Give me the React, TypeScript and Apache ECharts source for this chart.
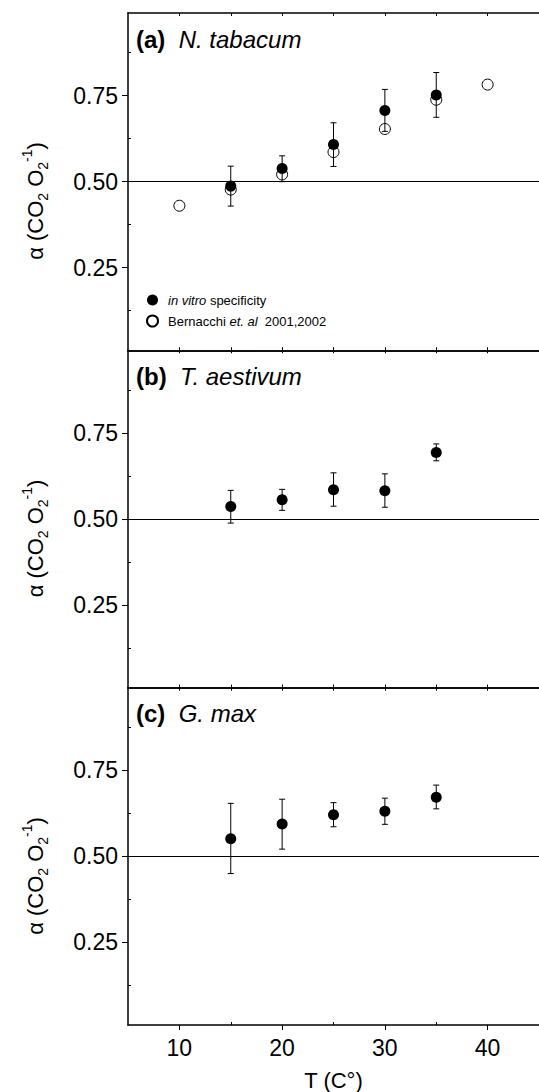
import React, { useEffect, useRef } from "react";
import * as echarts from "echarts";

// ---- data ----
const T_FILLED = [15, 20, 25, 30, 35];
const T_OPEN = [10, 15, 20, 25, 30, 35, 40];

const A_FILLED = [0.487, 0.538, 0.608, 0.707, 0.752];
const A_LO = [0.429, 0.5, 0.544, 0.646, 0.687];
const A_HI = [0.545, 0.575, 0.671, 0.768, 0.817];
const A_OPEN = [0.43, 0.477, 0.521, 0.586, 0.653, 0.738, 0.782];

const B_FILLED = [0.536, 0.556, 0.585, 0.582, 0.693];
const B_LO = [0.488, 0.525, 0.537, 0.534, 0.669];
const B_HI = [0.583, 0.586, 0.634, 0.631, 0.718];

const C_FILLED = [0.551, 0.594, 0.621, 0.631, 0.672];
const C_LO = [0.45, 0.521, 0.586, 0.593, 0.638];
const C_HI = [0.654, 0.666, 0.656, 0.669, 0.707];

const PANEL_TAGS = ["(a)", "(b)", "(c)"];
const PANEL_SPECIES = ["N. tabacum", "T. aestivum", "G. max"];

const X_MAJOR = [10, 20, 30, 40];
const X_MINOR = [15, 25, 35];
const X_TOP = [10, 15, 20, 25, 30, 35, 40];
const Y_MAJOR = [0.25, 0.5, 0.75];
const Y_MINOR = [0.125, 0.375, 0.625, 0.875];

const SERIES_FILLED = "in vitro specificity";
const SERIES_OPEN = "Bernacchi et. al 2001,2002";

const FONT = "'Liberation Sans', Arial, Helvetica, sans-serif";

export default function App() {
  const ref = useRef<HTMLDivElement>(null);

  useEffect(() => {
    if (!ref.current) return;
    const chart = echarts.init(ref.current, null, { renderer: "svg" });

    const tops = [13, 350.3, 687.7];
    const H = 337.3;
    const grids = tops.map((t) => ({ left: 128, width: 415, top: t, height: H }));

    const xAxes: any[] = [];
    const yAxes: any[] = [];
    tops.forEach((_, i) => {
      const last = i === 2;
      xAxes.push({
        gridIndex: i,
        type: "value",
        min: 5,
        max: 45,
        position: "bottom",
        axisLine: { show: true, onZero: false, lineStyle: { color: "#000", width: 1.5 } },
        axisTick: {
          show: true,
          customValues: X_MAJOR,
          inside: !last,
          length: last ? 5 : 3,
          lineStyle: { color: "#000", width: 1 },
        },
        axisLabel: {
          show: last,
          customValues: X_MAJOR,
          margin: 11,
          color: "#000",
          fontSize: 23,
          fontFamily: FONT,
        },
        splitLine: { show: false },
        name: last ? "T (C\u00b0)" : "",
        nameLocation: "middle",
        nameGap: 44,
        nameTextStyle: { color: "#000", fontSize: 22, fontFamily: FONT },
      });
      xAxes.push({
        gridIndex: i,
        type: "value",
        min: 5,
        max: 45,
        position: "bottom",
        axisLine: { show: false, onZero: false },
        axisTick: { show: true, customValues: X_MINOR, inside: true, length: 3, lineStyle: { color: "#000" } },
        axisLabel: { show: false },
        splitLine: { show: false },
      });
      xAxes.push({
        gridIndex: i,
        type: "value",
        min: 5,
        max: 45,
        position: "top",
        axisLine: { show: true, onZero: false, lineStyle: { color: "#000", width: 1.5 } },
        axisTick: { show: true, customValues: X_TOP, inside: true, length: 3, lineStyle: { color: "#000" } },
        axisLabel: { show: false },
        splitLine: { show: false },
      });
      yAxes.push({
        gridIndex: i,
        type: "value",
        min: 0.01,
        max: 0.99,
        position: "left",
        axisLine: { show: true, onZero: false, lineStyle: { color: "#000", width: 1.5 } },
        axisTick: { show: true, customValues: Y_MAJOR, inside: false, length: 6, lineStyle: { color: "#000" } },
        axisLabel: {
          show: true,
          customValues: Y_MAJOR,
          margin: 10,
          color: "#000",
          fontSize: 23,
          fontFamily: FONT,
          formatter: (v: number) => v.toFixed(2),
        },
        splitLine: { show: false },
      });
      yAxes.push({
        gridIndex: i,
        type: "value",
        min: 0.01,
        max: 0.99,
        position: "left",
        axisLine: { show: false, onZero: false },
        axisTick: { show: true, customValues: Y_MINOR, inside: true, length: 3, lineStyle: { color: "#000" } },
        axisLabel: { show: false },
        splitLine: { show: false },
      });
    });

    const errRender = (params: any, api: any) => {
      const x = api.value(0);
      const lo = api.value(1);
      const hi = api.value(2);
      const p1 = api.coord([x, hi]);
      const p2 = api.coord([x, lo]);
      const w = 3;
      const st = { stroke: "#000", lineWidth: 1 };
      return {
        type: "group",
        children: [
          { type: "line", shape: { x1: p1[0], y1: p1[1], x2: p2[0], y2: p2[1] }, style: st },
          { type: "line", shape: { x1: p1[0] - w, y1: p1[1], x2: p1[0] + w, y2: p1[1] }, style: st },
          { type: "line", shape: { x1: p2[0] - w, y1: p2[1], x2: p2[0] + w, y2: p2[1] }, style: st },
        ],
      };
    };

    const panels = [
      { f: A_FILLED, lo: A_LO, hi: A_HI },
      { f: B_FILLED, lo: B_LO, hi: B_HI },
      { f: C_FILLED, lo: C_LO, hi: C_HI },
    ];

    const series: any[] = [];
    panels.forEach((p, i) => {
      const xi = 3 * i;
      const yi = 2 * i;
      if (i === 0) {
        series.push({
          name: SERIES_OPEN,
          type: "scatter",
          xAxisIndex: xi,
          yAxisIndex: yi,
          symbol: "circle",
          symbolSize: 11,
          itemStyle: { color: "#fff", borderColor: "#000", borderWidth: 1, opacity: 1 },
          data: T_OPEN.map((t, k) => [t, A_OPEN[k]]),
          z: 3,
        });
      }
      series.push({
        type: "custom",
        xAxisIndex: xi,
        yAxisIndex: yi,
        renderItem: errRender,
        data: T_FILLED.map((t, k) => [t, p.lo[k], p.hi[k]]),
        encode: { x: 0, y: [1, 2] },
        silent: true,
        z: 4,
        markLine: {
          silent: true,
          symbol: "none",
          label: { show: false },
          lineStyle: { color: "#000", width: 1, type: "solid" },
          data: [{ yAxis: 0.5 }],
        },
      });
      series.push({
        name: SERIES_FILLED,
        type: "scatter",
        xAxisIndex: xi,
        yAxisIndex: yi,
        symbol: "circle",
        symbolSize: 11,
        itemStyle: { color: "#000", opacity: 1 },
        data: T_FILLED.map((t, k) => [t, p.f[k]]),
        z: 5,
      });
    });

    const titleTops = [27, 364.5, 701];
    const titles = PANEL_TAGS.map((tag, i) => ({
      text: `{b|${tag}}  {i|${PANEL_SPECIES[i]}}`,
      left: 136,
      top: titleTops[i],
      padding: 0,
      textStyle: {
        fontSize: 24,
        fontWeight: "normal",
        fontFamily: FONT,
        color: "#000",
        rich: {
          b: { fontSize: 24, fontWeight: "bold", fontFamily: FONT, color: "#000" },
          i: { fontSize: 24, fontWeight: "normal", fontStyle: "italic", fontFamily: FONT, color: "#000" },
        },
      },
    }));

    const yNameCenters = [201, 538.5, 876];
    const graphics = yNameCenters.map((cy) => ({
      type: "text",
      x: 35,
      y: cy,
      rotation: Math.PI / 2,
      style: {
        text: "{m|\u03b1 (CO}{s|2}{m| O}{s|2}{p|-1}{m|)}",
        align: "center",
        verticalAlign: "middle",
        fill: "#000",
        rich: {
          m: { fontSize: 22, lineHeight: 30, fontFamily: FONT, fill: "#000" },
          s: { fontSize: 14, lineHeight: 13, verticalAlign: "bottom", fontFamily: FONT, fill: "#000" },
          p: { fontSize: 14, lineHeight: 14, verticalAlign: "top", fontFamily: FONT, fill: "#000" },
        },
      },
    }));

    chart.setOption({
      animation: false,
      backgroundColor: "#fff",
      title: titles,
      grid: grids,
      xAxis: xAxes,
      yAxis: yAxes,
      legend: {
        show: true,
        orient: "vertical",
        left: 146,
        top: 292,
        padding: 0,
        itemWidth: 11,
        itemHeight: 11,
        itemGap: 5,
        selectedMode: false,
        data: [
          { name: SERIES_FILLED, icon: "circle" },
          { name: SERIES_OPEN, icon: "circle" },
        ],
        formatter: (name: string) =>
          name === SERIES_FILLED ? "{i|in vitro} specificity" : "Bernacchi {i|et. al}  2001,2002",
        textStyle: {
          fontSize: 13,
          lineHeight: 16,
          fontFamily: FONT,
          color: "#000",
          padding: [0, 0, 0, 5],
          rich: {
            i: { fontSize: 13, fontStyle: "italic", fontFamily: FONT, color: "#000" },
          },
        },
      },
      graphic: graphics,
      series,
    });

    return () => chart.dispose();
  }, []);

  return (
    <div
      ref={ref}
      style={{ position: "fixed", left: 0, top: 0, width: 539, height: 1092, background: "#fff" }}
    />
  );
}
